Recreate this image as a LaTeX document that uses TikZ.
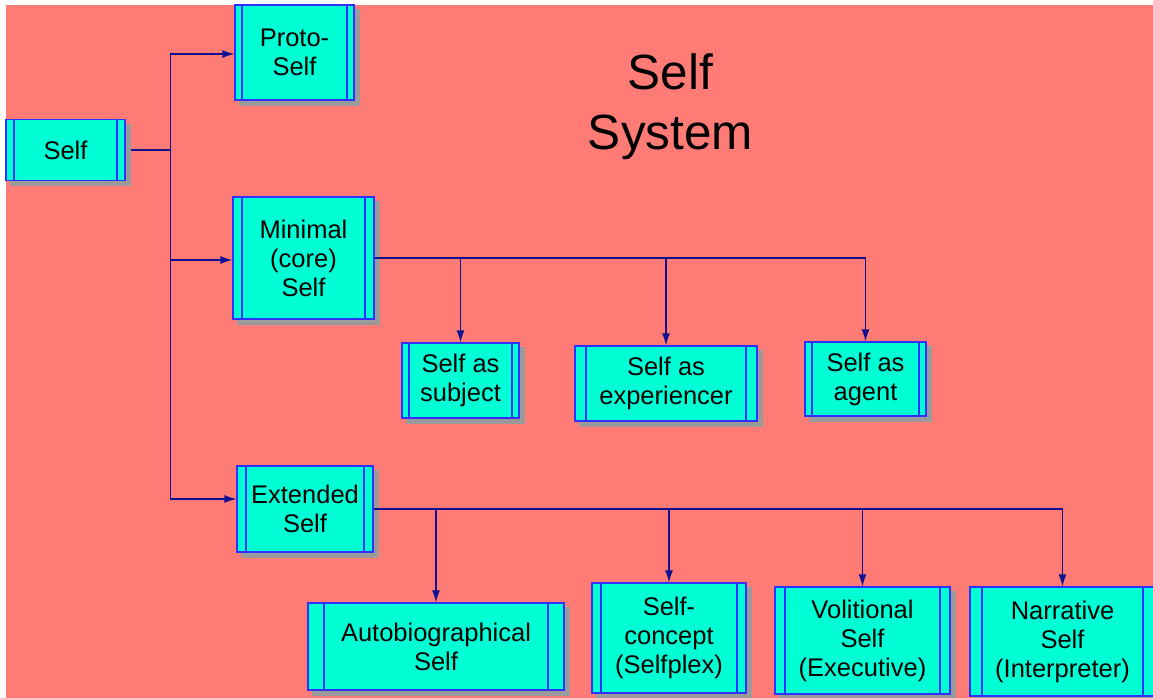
\documentclass[tikz,border=0pt]{standalone}
\usepackage{fontspec}
\setmainfont{Liberation Sans}
\usetikzlibrary{arrows.meta,backgrounds}
\definecolor{bgpink}{HTML}{FF7B75}
\definecolor{boxcyan}{HTML}{00FFD5}
\definecolor{boxblue}{HTML}{3030FF}
\definecolor{linknavy}{HTML}{101090}
\definecolor{shadowgray}{HTML}{9A9A9A}
\tikzset{
  sbox/.style={draw=boxblue, fill=boxcyan, line width=1.1pt, align=center,
    inner sep=0pt, font=\fontsize{25.5}{29}\selectfont,
    path picture={
      \draw[boxblue, line width=1.1pt]
        ([xshift=#1]path picture bounding box.north west) -- ([xshift=#1]path picture bounding box.south west)
        ([xshift=-#1]path picture bounding box.north east) -- ([xshift=-#1]path picture bounding box.south east);
    }},
  shade box/.style={fill=shadowgray},
  link/.style={draw=linknavy, line width=1.4pt},
  arr/.style={link, -{Latex[length=12pt,width=8pt]}},
}
\begin{document}
\begin{tikzpicture}[x=1pt,y=-1pt]
\useasboundingbox (0,0) rectangle (1153,698);
\begin{scope}[on background layer]
\fill[white] (0,0) rectangle (1153,698);
\fill[bgpink] (6,5) rectangle (1153,698);
\end{scope}

\node[font=\fontsize{49.5}{60}\selectfont, align=center] (title) at (670.5,107) {Self\\System};

\node[sbox=8pt, minimum width=119pt, minimum height=61pt] (self) at (65.5,150) {Self};
\node[sbox=7pt, minimum width=119pt, minimum height=95pt] (proto) at (294.5,52.5) {Proto-\\Self};
\node[sbox=9pt, minimum width=141pt, minimum height=122pt] (minimal) at (303.5,258) {Minimal\\(core)\\Self};
\node[sbox=7pt, minimum width=117pt, minimum height=75pt] (subject) at (460.5,380.5) {Self as\\subject};
\node[sbox=11pt, minimum width=182pt, minimum height=75pt] (experiencer) at (666,383.5) {Self as\\experiencer};
\node[sbox=7pt, minimum width=121pt, minimum height=74pt] (agent) at (865.5,379) {Self as\\agent};
\node[sbox=9pt, minimum width=136pt, minimum height=86pt] (extended) at (305,509) {Extended\\Self};
\node[sbox=16pt, minimum width=256pt, minimum height=87pt] (autobio) at (436,646.5) {Autobiographical\\Self};
\node[sbox=9pt, minimum width=154pt, minimum height=110pt] (concept) at (669,638) {Self-\\concept\\(Selfplex)};
\node[sbox=10pt, minimum width=175pt, minimum height=107pt] (volitional) at (862.5,640.5) {Volitional\\Self\\(Executive)};
\node[sbox=12pt, minimum width=185pt, minimum height=109pt] (narrative) at (1062.5,641.5) {Narrative\\Self\\(Interpreter)};

\begin{scope}[on background layer]
\foreach \n in {self,proto,minimal,subject,experiencer,agent,extended,autobio,concept,volitional,narrative}
  \fill[shade box] ([shift={(5,5)}]\n.north west) rectangle ([shift={(5,5)}]\n.south east);
\end{scope}

\path (self.east) ++(45,0) coordinate (j1);
\draw[link, shorten <=5pt] (self.east) -- (j1);
\draw[arr] (j1) |- ([yshift=-1.5pt]proto.west);
\draw[arr] (j1) |- ([yshift=-2pt]minimal.west);
\draw[arr] (j1) |- ([yshift=10pt]extended.west);

\draw[link, shorten <=5pt] (minimal.east) -- (agent.north |- minimal.east);
\draw[arr] (minimal.east) -| (subject.north);
\draw[arr] (minimal.east) -| (experiencer.north);
\draw[arr] (minimal.east) -| (agent.north);

\draw[link, shorten <=5pt] (extended.east) -- (narrative.north |- extended.east);
\draw[arr] (extended.east) -| (autobio.north);
\draw[arr] (extended.east) -| (concept.north);
\draw[arr] (extended.east) -| (volitional.north);
\draw[arr] (extended.east) -| (narrative.north);
\end{tikzpicture}
\end{document}
